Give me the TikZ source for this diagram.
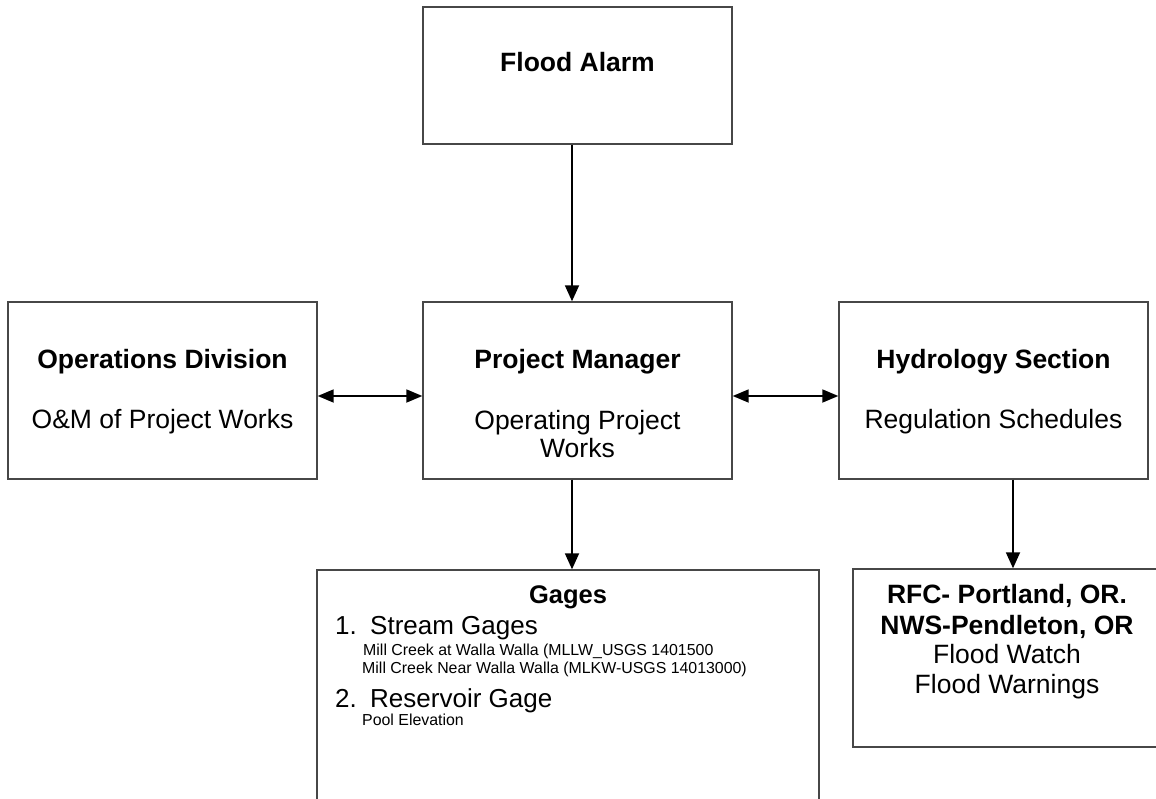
\documentclass[tikz,border=0pt]{standalone}
\usepackage{fontspec}
\setmainfont{Liberation Sans}
\usetikzlibrary{arrows.meta,calc}
\begin{document}
\begin{tikzpicture}[x=1pt,y=-1pt,
  box/.style={draw=black!72,line width=1.4pt,fill=white,inner sep=0pt},
  big/.style={inner sep=0pt,anchor=base,font=\fontsize{26.5}{30}\selectfont},
  bigb/.style={big,font=\fontsize{26.5}{30}\selectfont\bfseries},
  lst/.style={inner sep=0pt,anchor=base west,font=\fontsize{26}{30}\selectfont},
  sml/.style={inner sep=0pt,anchor=base west,font=\fontsize{15.9}{18}\selectfont},
  conn/.style={line width=1.8pt,-{Triangle[length=16pt,width=14pt]}},
  dconn/.style={line width=1.8pt,{Triangle[length=16pt,width=13pt]}-{Triangle[length=16pt,width=13pt]}}]
\clip (0,0) rectangle (1156,799);
\fill[white] (0,0) rectangle (1156,799);
% boxes
\node[box,minimum width=309pt,minimum height=137pt] (fa) at (577.5,75.5) {};
\node[box,minimum width=309pt,minimum height=177pt] (ops) at (162.5,390.5) {};
\node[box,minimum width=309pt,minimum height=177pt] (pm) at (577.5,390.5) {};
\node[box,minimum width=309pt,minimum height=177pt] (hyd) at (993.5,390.5) {};
\node[box,minimum width=502pt,minimum height=300pt] (gag) at (568,720) {};
\node[box,minimum width=308pt,minimum height=178pt] (rfc) at (1007,658) {};
% connector x positions
\coordinate (cx) at (572,0);
\coordinate (rx) at (1013,0);
\draw[conn] (fa.south -| cx) -- (pm.north -| cx);
\draw[conn] (pm.south -| cx) -- (gag.north -| cx);
\draw[conn] (hyd.south -| rx) -- (rfc.north -| rx);
\coordinate (hy) at (0,396);
\draw[dconn] (ops.east |- hy) -- (pm.west |- hy);
\draw[dconn] (pm.east |- hy) -- (hyd.west |- hy);
% texts
\node[bigb] (faT) at (577.5,72) {Flood Alarm};
\node[bigb] (opsT) at (162.5,368) {Operations Division};
\node[big] (opsS) at (162.5,428) {O\&M of Project Works};
\node[bigb] (pmT) at (577.5,368) {Project Manager};
\node[big] (pmS1) at (577.5,429) {Operating Project};
\node[big] (pmS2) at (577.5,457) {Works};
\node[bigb] (hydT) at (993.5,368) {Hydrology Section};
\node[big] (hydS) at (993.5,428) {Regulation Schedules};
\node[bigb,font=\fontsize{25.5}{30}\selectfont\bfseries] (gagT) at (568,603) {Gages};
\node[lst] (n1) at (335,634) {1.};
\node[lst] (l1) at (370,634) {Stream Gages};
\node[sml] (s1) at (363,655) {Mill Creek at Walla Walla (MLLW\_USGS 1401500};
\node[sml] (s2) at (362,673) {Mill Creek Near Walla Walla (MLKW-USGS 14013000)};
\node[lst] (n2) at (335,707) {2.};
\node[lst] (l2) at (370,707) {Reservoir Gage};
\node[sml] (s3) at (362,725) {Pool Elevation};
\node[bigb] (r1) at (1007,603) {RFC- Portland, OR.};
\node[bigb] (r2) at (1007,634) {NWS-Pendleton, OR};
\node[big] (r3) at (1007,663) {Flood Watch};
\node[big] (r4) at (1007,693) {Flood Warnings};
\end{tikzpicture}
\end{document}
